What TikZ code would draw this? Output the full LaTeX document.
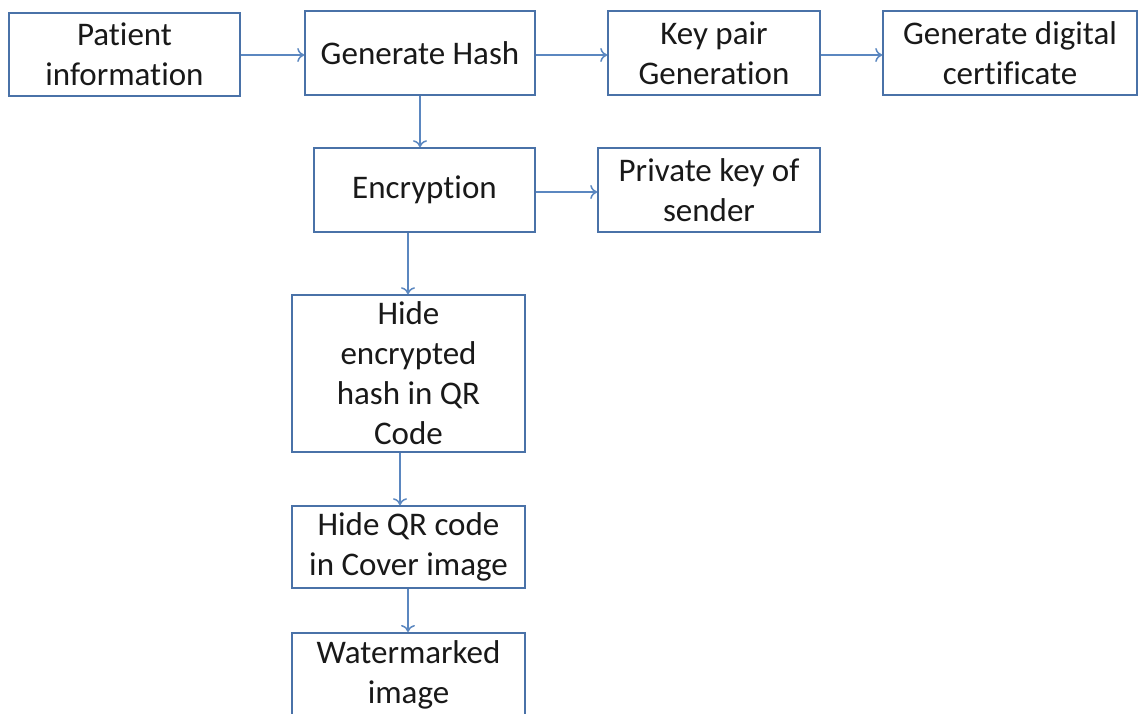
\documentclass[tikz,border=0pt]{standalone}
\usepackage{fontspec}
\setmainfont{Carlito}[Ligatures=NoCommon]
\usetikzlibrary{arrows.meta}
\definecolor{boxc}{HTML}{4A72A8}
\definecolor{arrc}{HTML}{5B87C0}
\begin{document}
\begin{tikzpicture}[x=1pt,y=-1pt,
  box/.style={draw=boxc,line width=1.6pt,fill=white,align=center,inner sep=0pt,font=\fontsize{33}{40}\selectfont,text=black!90},
  arr/.style={draw=arrc,line width=1.5pt,-{To[length=7pt,width=14pt,line width=1.5pt]}}]
\useasboundingbox (0,0) rectangle (1138,713);
\clip (0,0) rectangle (1138,713);
\newcommand{\bx}[6]{\node[box,minimum width={#4-#2},minimum height={#5-#3}] (#1) at ({(#2+#4)/2},{(#3+#5)/2}) {#6};}
\bx{pat}{9}{13}{240}{96}{Patient\\information}
\bx{hash}{305}{11}{535}{95}{Generate Hash}
\bx{key}{608}{11}{820}{95}{Key pair\\Generation}
\bx{cert}{883}{11}{1137}{95}{Generate digital\\certificate}
\bx{enc}{314}{148}{535}{232}{Encryption}
\bx{priv}{598}{148}{820}{232}{Private key of\\sender}
\bx{hide}{292}{295}{525}{452}{Hide\\encrypted\\hash in QR\\Code}
\bx{qr}{292}{506}{525}{588}{Hide QR code\\in Cover image}
\node[box,minimum width=233pt,minimum height=120pt,anchor=north] (wm) at (408.5,632) {};
\node[font=\fontsize{33}{40}\selectfont,text=black!90,align=center] (wmt) at (408.5,675) {Watermarked\\image};
\draw[arr] (pat.east|-0,55) -- (hash.west|-0,55);
\draw[arr] (hash.east|-0,55) -- (key.west|-0,55);
\draw[arr] (key.east|-0,55) -- (cert.west|-0,55);
\draw[arr] (hash.south-|420,0) -- (enc.north-|420,0);
\draw[arr] (enc.east|-0,192) -- (priv.west|-0,192);
\draw[arr] (enc.south-|408,0) -- (hide.north-|408,0);
\draw[arr] (hide.south-|400,0) -- (qr.north-|400,0);
\draw[arr] (qr.south-|408,0) -- (wm.north-|408,0);
\end{tikzpicture}
\end{document}
